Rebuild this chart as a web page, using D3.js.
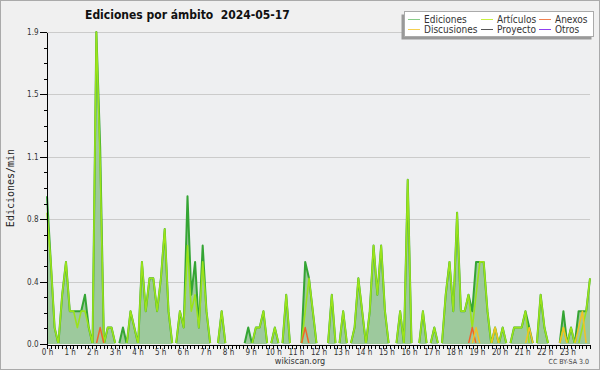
<!DOCTYPE html>
<html>
<head>
<meta charset="utf-8">
<title>Ediciones por ámbito</title>
<script src="https://cdn.jsdelivr.net/npm/d3@7"></script>
<style>
  body { margin: 0; background: #f0f0f0; }
  text { font-family: "DejaVu Sans Condensed", "DejaVu Sans", sans-serif; font-stretch: condensed; }
  .axis path, .axis line { stroke: #000; shape-rendering: crispEdges; }
  .axis text { fill: #333; font-size: 8px; }
</style>
</head>
<body>
<script>
// one value every 10 minutes (edits per minute), 6 per row = 1 hour
var ediciones = [
  0.9,0.5,0.1,0,0.3,0.5,
  0.2,0.2,0.2,0.2,0.3,0.1,
  0,1.9,1.2,0,0.1,0.1,
  0,0,0.1,0,0.2,0.1,
  0,0.5,0.2,0.4,0.4,0.2,
  0.4,0.7,0.2,0,0,0.2,
  0.1,0.9,0.3,0.5,0.1,0.6,
  0.2,0,0,0,0.2,0,
  0,0,0,0,0,0.1,
  0,0.1,0.1,0.2,0,0,
  0.1,0,0,0.3,0,0,
  0,0,0.5,0.4,0.2,0,
  0,0,0,0.3,0,0,
  0.2,0,0,0.1,0.4,0.2,
  0,0.2,0.6,0.3,0.6,0.2,
  0,0,0,0.2,0,1.0,
  0,0,0,0.2,0,0,
  0.1,0,0,0.3,0.5,0.2,
  0.8,0.2,0.2,0.3,0.2,0.5,
  0.5,0.5,0.2,0,0.1,0,
  0.1,0,0,0.1,0.1,0.1,
  0.2,0.1,0,0,0.3,0.1,
  0,0,0,0,0.2,0,
  0.1,0,0.2,0.2,0.2,0.4
];
var articulos = [
  0.8,0.5,0.1,0,0.3,0.5,
  0.2,0.2,0.1,0.2,0.2,0.1,
  0,1.9,1.1,0,0.1,0.1,
  0,0,0,0,0.2,0.1,
  0,0.5,0.2,0.4,0.4,0.2,
  0.4,0.7,0.2,0,0,0.2,
  0.1,0.6,0.2,0.3,0.1,0.5,
  0.2,0,0,0,0.2,0,
  0,0,0,0,0,0,
  0,0.1,0.1,0.2,0,0,
  0.1,0,0,0.3,0,0,
  0,0,0.2,0.4,0.2,0,
  0,0,0,0.3,0,0,
  0.2,0,0,0.1,0.4,0.2,
  0,0.2,0.6,0.3,0.6,0.2,
  0,0,0,0.2,0,1.0,
  0,0,0,0.2,0,0,
  0.1,0,0,0.3,0.5,0.2,
  0.8,0.2,0.2,0.3,0.1,0.3,
  0.5,0.5,0.2,0,0.1,0,
  0.1,0,0,0.1,0.1,0.1,
  0.2,0,0,0,0.3,0.1,
  0,0,0,0,0.1,0,
  0.1,0,0,0.1,0.2,0.4
];
// sparse series: index -> value, the rest is 0
var anexosPts = [[14,0.1],[68,0.1],[112,0.1]];
var discusionesPts = [[113,0.1],[118,0.1],[127,0.1],[136,0.1],[140,0.1],[141,0.2]];
var proyectoPts = [];
var otrosPts = [];

var yTicks = [0, 0.38, 0.76, 1.14, 1.52, 1.9];
var hourLabels = d3.range(0, 24);

function fill(pts) {
  var a = ediciones.map(function() { return 0; });
  pts.forEach(function(p) { a[p[0]] = p[1]; });
  return a;
}

var series = [
  {name: "Ediciones",   values: ediciones,            color: "#34a534", legend: "#88cc88", w: 2},
  {name: "Artículos",   values: articulos,            color: "#9be31a", legend: "#c8f040", w: 1.6},
  {name: "Anexos",      values: fill(anexosPts),      color: "#f0642a", legend: "#f08050", w: 1.5},
  {name: "Discusiones", values: fill(discusionesPts), color: "#f2c224", legend: "#f5d050", w: 1.5},
  {name: "Proyecto",    values: fill(proyectoPts),    color: "#555555", legend: "#555555", w: 1.5},
  {name: "Otros",       values: fill(otrosPts),       color: "#9040f0", legend: "#9040f0", w: 1.5}
];

var width = 600, height = 370;
var pLeft = 47, pRight = 590, pTop = 32, pBottom = 344;

var svg = d3.select("body").append("svg")
  .attr("width", width).attr("height", height);

svg.append("rect").attr("x", 0.5).attr("y", 0.5)
  .attr("width", width - 1).attr("height", height - 1)
  .attr("fill", "#f0f0f0").attr("stroke", "#aaa");

// lines at 0 stay hidden under the axis
svg.append("clipPath").attr("id", "clip")
  .append("rect").attr("x", 0).attr("y", 0)
  .attr("width", width).attr("height", pBottom - 1);

var x = d3.scaleLinear().domain([0, ediciones.length - 1]).range([pLeft, pRight]);
var xh = d3.scaleLinear().domain([0, 24]).range([pLeft, pRight]);
var y = d3.scaleLinear().domain([0, 1.9]).range([pBottom, pTop]);

svg.append("rect").attr("x", pLeft).attr("y", pTop)
  .attr("width", pRight - pLeft).attr("height", pBottom - pTop)
  .attr("fill", "#eeeff1");

// grid
svg.append("g").selectAll("line").data(yTicks.slice(1)).enter().append("line")
  .attr("x1", pLeft).attr("x2", pRight)
  .attr("y1", function(d) { return Math.round(y(d)) + 0.5; })
  .attr("y2", function(d) { return Math.round(y(d)) + 0.5; })
  .attr("stroke", "#cbcbcb");

// area of all edits
var area = d3.area()
  .x(function(d, i) { return x(i); })
  .y0(pBottom).y1(function(d) { return y(d); });

svg.append("path").datum(ediciones)
  .attr("d", area).attr("fill", "#9dc99d");

var line = d3.line()
  .x(function(d, i) { return x(i); })
  .y(function(d) { return y(d); });

// totals first, then the namespaces on top
var lines = svg.append("g").attr("clip-path", "url(#clip)");
series.forEach(function(s) {
  lines.append("path").datum(s.values)
    .attr("d", line)
    .attr("fill", "none")
    .attr("stroke", s.color)
    .attr("stroke-width", s.w)
    .attr("stroke-linejoin", "round");
});

// y axis
var yMinor = d3.range(0, 21).map(function(k) { return k * 0.095; });
svg.append("g").attr("class", "axis")
  .attr("transform", "translate(" + (pLeft - 0.5) + ",0)")
  .call(d3.axisLeft(y).tickValues(yMinor).tickSize(3).tickFormat(""))
  .select(".domain").remove();
svg.append("g").attr("class", "axis")
  .attr("transform", "translate(" + (pLeft - 0.5) + ",0)")
  .call(d3.axisLeft(y).tickValues(yTicks).tickSizeInner(7).tickSizeOuter(0)
    .tickPadding(1).tickFormat(d3.format(".1f")));

// x axis
var xMinor = d3.range(0, 145).map(function(k) { return k / 6; });
svg.append("g").attr("class", "axis")
  .attr("transform", "translate(0," + (pBottom + 0.5) + ")")
  .call(d3.axisBottom(xh).tickValues(xMinor).tickSizeInner(4).tickSizeOuter(0).tickFormat(""));
svg.append("g").attr("class", "axis")
  .attr("transform", "translate(0," + (pBottom + 0.5) + ")")
  .call(d3.axisBottom(xh).tickValues(hourLabels).tickSize(4).tickPadding(1)
    .tickFormat(function(d) { return d + " h"; }))
  .select(".domain").remove();

// texts
svg.append("text").attr("x", 85).attr("y", 19)
  .attr("font-size", 12).attr("font-weight", "bold").attr("fill", "#111")
  .style("white-space", "pre")
  .text("Ediciones por ámbito  2024-05-17");

svg.append("text")
  .attr("transform", "translate(14," + ((pTop + pBottom) / 2) + ") rotate(-90)")
  .attr("text-anchor", "middle")
  .style("font-family", "'DejaVu Sans Mono', monospace").style("font-stretch", "normal")
  .attr("font-size", 10).attr("fill", "#222")
  .text("Ediciones/min");

svg.append("text").attr("x", 300).attr("y", 364)
  .attr("text-anchor", "middle").attr("font-size", 9).attr("fill", "#333")
  .text("wikiscan.org");

svg.append("text").attr("x", 589).attr("y", 364)
  .attr("text-anchor", "end").attr("font-size", 7).attr("fill", "#444")
  .text("CC BY-SA 3.0");

// legend
var lg = svg.append("g");
lg.append("rect").attr("x", 401.5).attr("y", 14.5).attr("width", 190).attr("height", 25)
  .attr("fill", "#999");
lg.append("rect").attr("x", 404.5).attr("y", 11.5).attr("width", 189).attr("height", 25)
  .attr("fill", "#fff").attr("stroke", "#aaa");

var legendOrder = ["Ediciones", "Artículos", "Anexos", "Discusiones", "Proyecto", "Otros"];
var colX = [408, 481, 539];
legendOrder.forEach(function(name, k) {
  var s = series.filter(function(d) { return d.name == name; })[0];
  var cx = colX[k % 3], cy = k < 3 ? 19 : 29;
  lg.append("line").attr("x1", cx).attr("x2", cx + 12)
    .attr("y1", cy + 0.5).attr("y2", cy + 0.5)
    .attr("stroke", s.legend).attr("stroke-width", 1);
  lg.append("text").attr("x", cx + 16).attr("y", cy + 4)
    .attr("font-size", 10).attr("fill", "#333")
    .text(name);
});
</script>
</body>
</html>
